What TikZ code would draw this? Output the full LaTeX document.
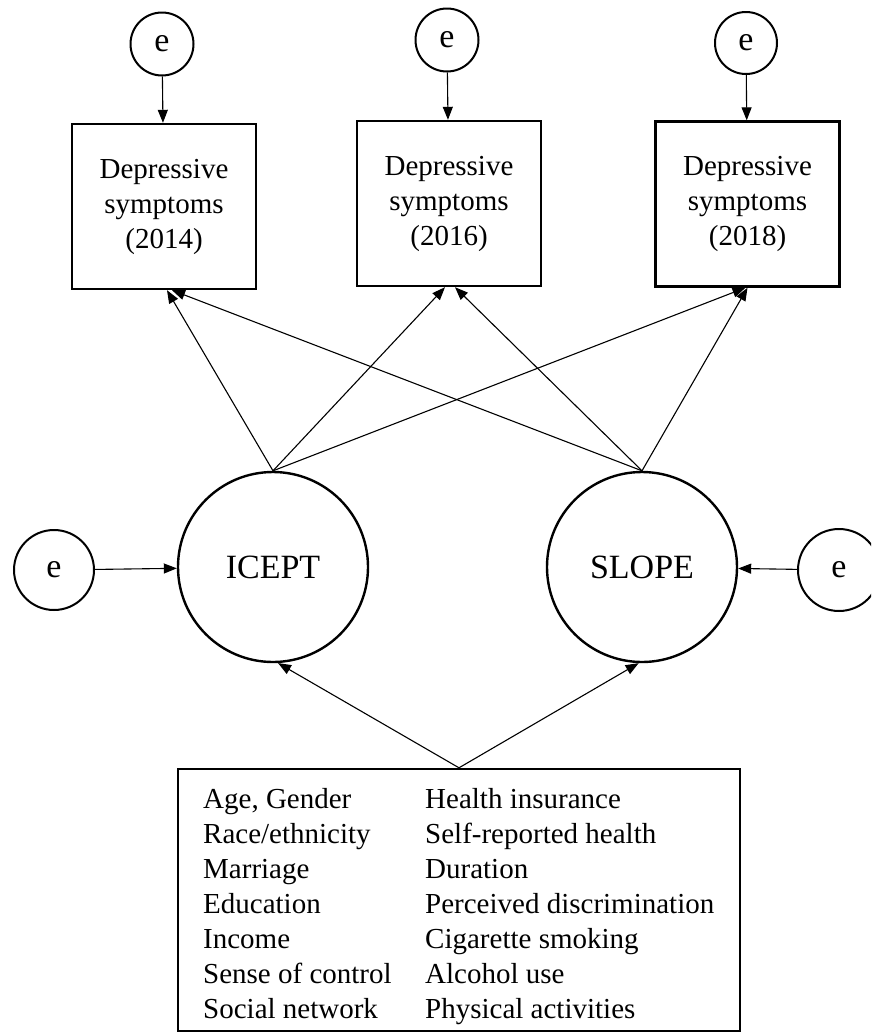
\documentclass[tikz,border=0pt]{standalone}
\usepackage{fontspec}
\setmainfont{Liberation Serif}
\usetikzlibrary{arrows.meta}
\begin{document}
\begin{tikzpicture}[x=1pt,y=-1pt,
  obs/.style={draw, line width=2.4pt, minimum width=184pt, minimum height=165pt,
    align=center, inner sep=0pt, font=\fontsize{29}{35}\selectfont},
  lat/.style={draw, circle, line width=2.4pt, minimum size=190pt, inner sep=0pt,
    font=\fontsize{34}{40}\selectfont},
  err/.style={draw, circle, line width=2pt, inner sep=0pt,
    font=\fontsize{34}{40}\selectfont},
  item/.style={anchor=base west, inner sep=0pt, font=\fontsize{29}{35}\selectfont},
  path/.style={line width=1.1pt, -{Triangle[length=13pt,width=10pt]}},
]
\useasboundingbox (0,0) rectangle (871,1034);
\clip (0,0) rectangle (871,1034);

% observed outcomes
\node[obs] (d1) at (164,206.5) {Depressive\\symptoms\\(2014)};
\node[obs] (d2) at (449,203.5) {Depressive\\symptoms\\(2016)};
\node[obs] (d3) at (747.5,204) {Depressive\\symptoms\\(2018)};

% residuals of the outcomes
\node[err, minimum size=63pt] (e1) at (162,44) {e};
\node[err, minimum size=63pt] (e2) at (447,40) {e};
\node[err, minimum size=62pt] (e3) at (746,43) {e};

% growth factors
\node[lat] (icept) at (273,567) {ICEPT};
\node[lat] (slope) at (642,567) {SLOPE};

% residuals of the growth factors
\node[err, minimum size=80pt] (eL) at (54,570) {e};
\node[err, minimum size=82pt] (eR) at (839,570) {e};

% covariates
\node[draw, line width=2.4pt, minimum width=562pt, minimum height=262pt, inner sep=0pt]
  (cov) at (459,900) {};
\node[item] (c1)  at (203,808)  {Age, Gender};
\node[item] (c2)  at (203,843)  {Race/ethnicity};
\node[item] (c3)  at (203,878)  {Marriage};
\node[item] (c4)  at (203,913)  {Education};
\node[item] (c5)  at (203,948)  {Income};
\node[item] (c6)  at (203,983)  {Sense of control};
\node[item] (c7)  at (203,1018) {Social network};
\node[item] (c8)  at (425,808)  {Health insurance};
\node[item] (c9)  at (425,843)  {Self-reported health};
\node[item] (c10) at (425,878)  {Duration};
\node[item] (c11) at (425,913)  {Perceived discrimination};
\node[item] (c12) at (425,948)  {Cigarette smoking};
\node[item] (c13) at (425,983)  {Alcohol use};
\node[item] (c14) at (425,1018) {Physical activities};

% residual paths
\draw[path] (e1) -- (d1);
\draw[path] (e2) -- (d2);
\draw[path] (e3) -- (d3);
\draw[path] (eL) -- (icept);
\draw[path] (eR) -- (slope);

% loadings
\draw[path] (icept.north) -- ([xshift=3pt]d1.south);
\draw[path] (icept.north) -- ([xshift=-4pt]d2.south);
\draw[path] (icept.north) -- ([xshift=-2pt]d3.south);
\draw[path] (slope.north) -- ([xshift=8pt]d1.south);
\draw[path] (slope.north) -- ([xshift=6pt]d2.south);
\draw[path] (slope.north) -- ([xshift=0pt]d3.south);

% covariate effects
\draw[path] (cov.north) -- (icept.-87);
\draw[path] (cov.north) -- (slope.-92);
\end{tikzpicture}
\end{document}
